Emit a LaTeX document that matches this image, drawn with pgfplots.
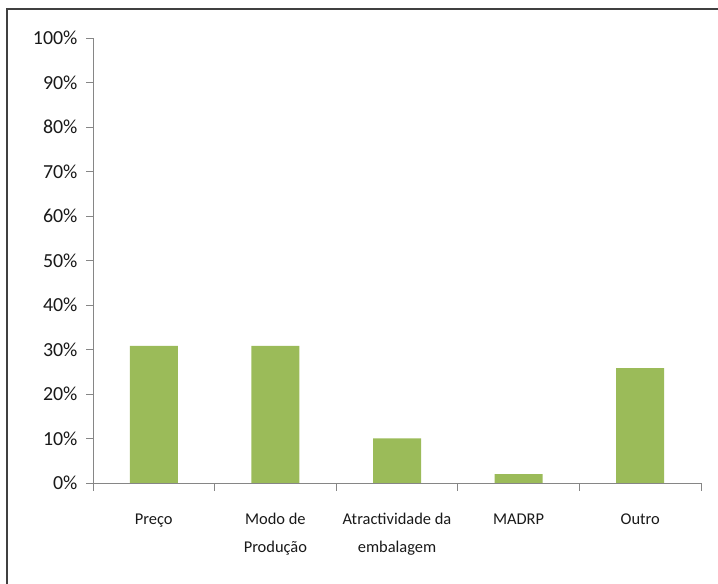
\documentclass[border=0pt]{standalone}
\usepackage{fontspec}
\setmainfont{Carlito}
\usepackage{pgfplots}
\pgfplotsset{compat=1.18}
\definecolor{bargreen}{HTML}{9BBB59}
\definecolor{axisgray}{HTML}{868686}
\definecolor{framegray}{HTML}{404040}

\begin{document}
\begin{tikzpicture}[x=1bp,y=1bp]
\useasboundingbox (0,0) rectangle (718,584);
\draw[line width=2.5bp, framegray] (7,0) -- (7,575) -- (718,575);
\begin{axis}[
  at={(93bp,101bp)}, anchor=south west,
  scale only axis,
  width=608bp, height=445bp,
  xmin=0, xmax=5, ymin=0, ymax=100,
  axis x line*=bottom, axis y line*=left,
  axis line style={axisgray, line width=0.9bp},
  tick align=outside,
  ytick={0,10,...,100},
  yticklabel={\pgfmathprintnumber{\tick}\%},
  major tick length=7bp,
  minor tick length=8bp,
  every tick/.style={axisgray, line width=0.9bp},
  xtick={0.5,1.5,2.5,3.5,4.5},
  xticklabels={Preço, Modo de\\Produção, Atractividade da\\embalagem, MADRP, Outro},
  minor xtick={0,1,2,3,4,5},
  x tick style={draw=none},
  minor x tick style={draw=axisgray},
  /pgf/number format/assume math mode=true,
  yticklabel style={font=\fontsize{20}{23}\selectfont, text=black!90, xshift=-5bp},
  xticklabel style={font=\fontsize{16.5}{28}\selectfont, align=center, text=black!90, anchor=north, yshift=-20bp},
]
\addplot[ybar, bar width=48bp, fill=bargreen, draw=none]
  coordinates {(0.5,30.8) (1.5,30.8) (2.5,10.0) (3.5,2.0) (4.5,25.8)};
\end{axis}
\end{tikzpicture}
\end{document}
